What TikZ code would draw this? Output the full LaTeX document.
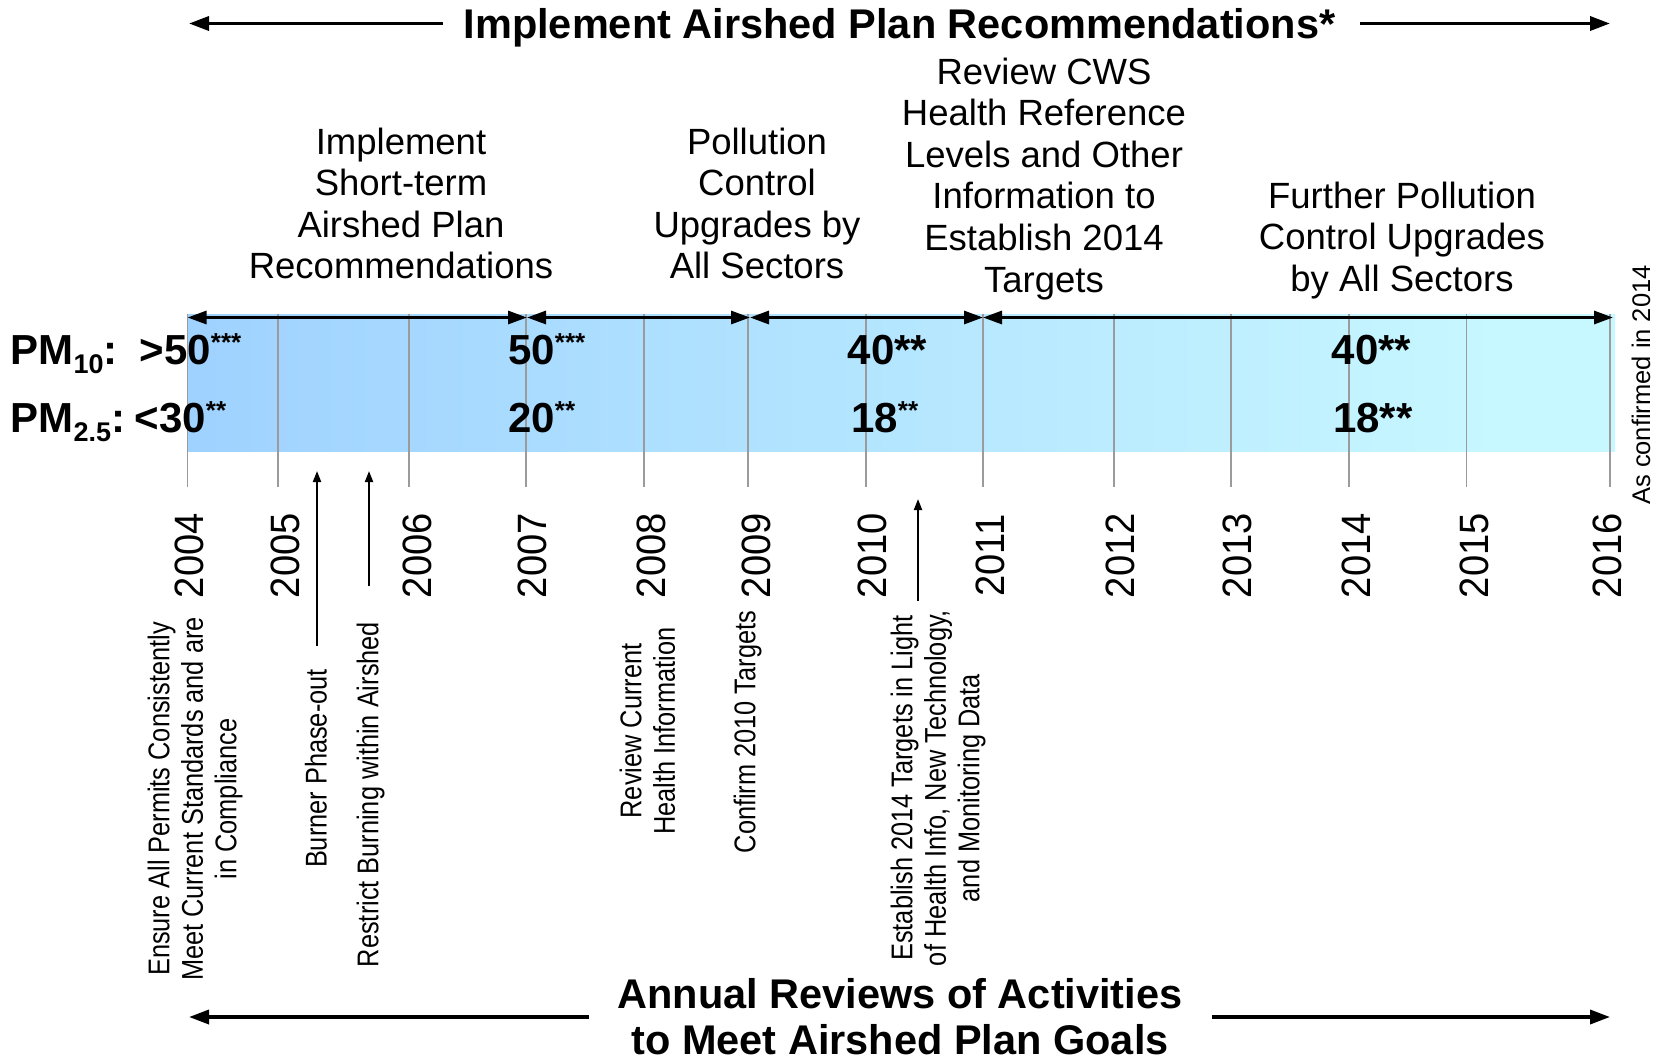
\documentclass[tikz,border=0pt]{standalone}
\usepackage{fontspec}
\setmainfont{Liberation Sans}
\newfontfamily\condfont[FakeStretch=0.93]{Liberation Sans}
\newfontfamily\narrowfont[FakeStretch=0.845]{Liberation Sans}
\usetikzlibrary{arrows.meta}
\definecolor{bandL}{RGB}{153,204,255}
\definecolor{bandR}{RGB}{200,248,255}
\definecolor{yrgray}{RGB}{155,155,155}
\pgfdeclarehorizontalshading{bandshade}{100bp}{color(0bp)=(bandL); color(18bp)=(bandL); color(72bp)=(bandR); color(100bp)=(bandR)}
\newcommand\supst[1]{\raisebox{13pt}{\fontsize{26}{26}\selectfont #1}}
\newcommand\subst[1]{\raisebox{-9pt}{\fontsize{27}{27}\selectfont #1}}
\begin{document}
\begin{tikzpicture}[x=1pt,y=-1pt,
  ttl/.style={font=\fontsize{41.5}{46}\selectfont\bfseries, inner sep=0pt, align=center},
  head/.style={font=\fontsize{36.5}{41.6}\selectfont, inner sep=0pt, align=center, anchor=north},
  pmlab/.style={font=\fontsize{42}{48}\selectfont\bfseries, inner sep=0pt, anchor=base west},
  yr/.style={font=\condfont\fontsize{41}{48}\selectfont, rotate=90, inner sep=0pt},
  act/.style={font=\narrowfont\fontsize{30}{33.5}\selectfont, rotate=90, inner sep=0pt, align=center},
  note/.style={font=\fontsize{25.5}{30}\selectfont, rotate=90, inner sep=0pt},
  yline/.style={draw=yrgray, line width=1.8pt},
  bigarrow/.style={line width=3.5pt, -{Triangle[length=20pt,width=14pt]}},
  segarrow/.style={line width=3pt, {Triangle[length=19pt,width=13pt]}-{Triangle[length=19pt,width=13pt]}},
  uparrow/.style={line width=2pt, -{Triangle[length=11pt,width=8pt]}}
]
\useasboundingbox[fill=white] (0,0) rectangle (1663,1061);

% band
\shade[shading=bandshade] (187.5,314) rectangle (1615,451.7);

% year lines and labels
\foreach \yy/\lx/\tx in {2004/187.5/189, 2005/277.8/285, 2006/408.7/417, 2007/526/532.5,
  2008/643.8/651, 2009/747.9/756, 2010/865.8/872.5, 2011/982.9/990, 2012/1113.7/1120.6,
  2013/1230.9/1237, 2014/1348.8/1356.5, 2015/1466.4/1474, 2016/1609.7/1607} {
  \coordinate (top\yy) at (\lx,314);
  \coordinate (bot\yy) at (\lx,487);
  \draw[yline] (top\yy) -- (bot\yy);
  \node[yr] (lab\yy) at (\tx,555.7) {\yy};
}

% period arrows on the band
\coordinate (a1) at (187.5,317.5);
\coordinate (a2) at (527,317.5);
\coordinate (a3) at (750,317.5);
\coordinate (a4) at (983,317.5);
\coordinate (a5) at (1613,317.5);
\draw[segarrow] (a1) -- (a2);
\draw[segarrow] (a2) -- (a3);
\draw[segarrow] (a3) -- (a4);
\draw[segarrow] (a4) -- (a5);

% title
\node[ttl, anchor=base] (title) at (899.5,38.5) {Implement Airshed Plan Recommendations*};
\coordinate (tl1) at (443,23.5);
\coordinate (tl0) at (189,23.5);
\coordinate (tr1) at (1360,23.5);
\coordinate (tr0) at (1610,23.5);
\draw[bigarrow] (tl1) -- (tl0);
\draw[bigarrow] (tr1) -- (tr0);

% bottom title
\node[ttl, anchor=north] (btitle) at (900,978.5) {Annual Reviews of Activities\\to Meet Airshed Plan Goals};
\coordinate (bl1) at (589,1017);
\coordinate (bl0) at (189,1017);
\coordinate (br1) at (1212,1017);
\coordinate (br0) at (1610,1017);
\draw[bigarrow] (bl1) -- (bl0);
\draw[bigarrow] (br1) -- (br0);

% phase headings
\node[head] (hImpl) at (401,127.5) {Implement\\Short-term\\Airshed Plan\\Recommendations};
\node[head] (hPoll) at (757,127.5) {Pollution\\Control\\Upgrades by\\All Sectors};
\node[head] (hRev) at (1044,57.5) {Review CWS\\Health Reference\\Levels and Other\\Information to\\Establish 2014\\Targets};
\node[head] (hFur) at (1402,181.5) {Further Pollution\\Control Upgrades\\by All Sectors};

% PM labels and values
\node[pmlab] (pm10) at (10.5,364) {PM\subst{10}:};
\node[pmlab] (pm25) at (10.5,432.7) {PM\subst{2.5}:};
\node[pmlab] (v1a) at (139.5,364) {>50\supst{***}};
\node[pmlab] (v1b) at (508,364) {50\supst{***}};
\node[pmlab] (v1c) at (847.5,364) {40**};
\node[pmlab] (v1d) at (1331.5,364) {40**};
\node[pmlab] (v2a) at (134.5,432.7) {<30\supst{**}};
\node[pmlab] (v2b) at (508,432.7) {20\supst{**}};
\node[pmlab] (v2c) at (851,432.7) {18\supst{**}};
\node[pmlab] (v2d) at (1333,432.7) {18**};

\node[note] (asconf) at (1641,385) {As confirmed in 2014};

% activities
\node[act] (lEns) at (195,799) {Ensure All Permits Consistently\\Meet Current Standards and are\\in Compliance};
\node[act] (lBur) at (316,768.6) {Burner Phase-out};
\node[act] (lRes) at (370.5,794.5) {Restrict Burning within Airshed};
\node[act] (lRev) at (647.5,731) {Review Current\\Health Information};
\node[act] (lCon) at (747.5,732) {Confirm 2010 Targets};
\node[act] (lEst) at (938,788) {Establish 2014 Targets in Light\\of Health Info, New Technology,\\and Monitoring Data};

\coordinate (burA) at (317,646);
\coordinate (burB) at (317,471);
\coordinate (resA) at (369,586);
\coordinate (resB) at (369,471);
\coordinate (estA) at (918,600.7);
\coordinate (estB) at (918,499);
\draw[uparrow] (burA) -- (burB);
\draw[uparrow] (resA) -- (resB);
\draw[uparrow] (estA) -- (estB);
\end{tikzpicture}
\end{document}
